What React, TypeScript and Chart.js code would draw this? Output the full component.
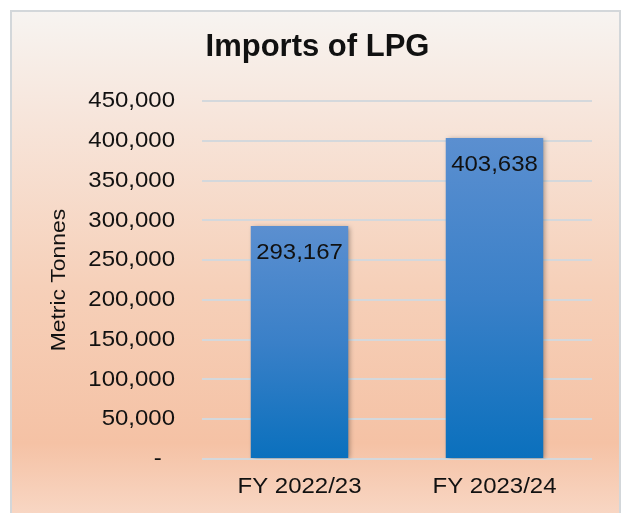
import React, { useEffect, useRef } from "react";
import { Chart, registerables } from "chart.js";

Chart.register(...registerables);

const categories = ["FY 2022/23", "FY 2023/24"];
const imports = [293167, 403638];
const yTicks = [0, 50000, 100000, 150000, 200000, 250000, 300000, 350000, 400000, 450000];
const titleText = "Imports of LPG";
const yAxisTitle = "Metric Tonnes";

const fmt = (v: number) => v.toLocaleString("en-US");

const W = 626;
const H = 513;
const FONT = "'Liberation Sans', Arial, sans-serif";
const STRETCH = 1.09;

export default function App() {
  const ref = useRef<HTMLCanvasElement | null>(null);

  useEffect(() => {
    document.body.style.margin = "0";
    const canvas = ref.current;
    if (!canvas) return;

    // Reference text is slightly wider than Arial: stretch regular text horizontally.
    const stretchPlugin = {
      id: "stretchText",
      beforeInit(chart: any) {
        const ctx = chart.ctx;
        const origFill = ctx.fillText.bind(ctx);
        const origMeasure = ctx.measureText.bind(ctx);
        const factor = () => (/bold/.test(ctx.font) ? 1 : STRETCH);
        ctx.fillText = (text: string, x: number, y: number, maxWidth?: number) => {
          const f = factor();
          ctx.save();
          ctx.translate(x, y);
          ctx.scale(f, 1);
          if (maxWidth !== undefined) origFill(text, 0, 0, maxWidth / f);
          else origFill(text, 0, 0);
          ctx.restore();
        };
        ctx.measureText = (text: string) => {
          const m = origMeasure(text);
          const f = factor();
          return {
            width: m.width * f,
            actualBoundingBoxAscent: m.actualBoundingBoxAscent,
            actualBoundingBoxDescent: m.actualBoundingBoxDescent,
            actualBoundingBoxLeft: m.actualBoundingBoxLeft * f,
            actualBoundingBoxRight: m.actualBoundingBoxRight * f,
          };
        };
      },
    };

    const framePlugin = {
      id: "frame",
      beforeDraw(chart: any) {
        const ctx = chart.ctx;
        ctx.save();
        ctx.fillStyle = "#ffffff";
        ctx.fillRect(0, 0, W, H);
        const g = ctx.createLinearGradient(0, 11, 0, H);
        g.addColorStop(0, "#f7f4f1");
        g.addColorStop(0.2, "#f7e6dc");
        g.addColorStop(0.55, "#f6d0b9");
        g.addColorStop(0.86, "#f5c2a5");
        g.addColorStop(1, "#f8d6c3");
        ctx.fillStyle = g;
        ctx.fillRect(11, 11, 609, H);
        ctx.strokeStyle = "#d3d7da";
        ctx.lineWidth = 2;
        ctx.strokeRect(11, 11, 609, H + 10);
        ctx.restore();
      },
    };

    const shadowPlugin = {
      id: "barShadow",
      beforeDatasetDraw(chart: any) {
        const ctx = chart.ctx;
        ctx.save();
        ctx.shadowColor = "rgba(0,0,0,0.35)";
        ctx.shadowBlur = 5;
        ctx.shadowOffsetX = 2;
        ctx.shadowOffsetY = 1;
      },
      afterDatasetDraw(chart: any) {
        chart.ctx.restore();
      },
    };

    const labelPlugin = {
      id: "valueLabels",
      afterDatasetsDraw(chart: any) {
        const ctx = chart.ctx;
        const meta = chart.getDatasetMeta(0);
        ctx.save();
        ctx.font = `22px ${FONT}`;
        ctx.fillStyle = "#111111";
        ctx.textAlign = "center";
        ctx.textBaseline = "middle";
        meta.data.forEach((bar: any, i: number) => {
          ctx.fillText(fmt(imports[i]), bar.x, bar.y + 27);
        });
        ctx.restore();
      },
    };

    const chart = new Chart(canvas, {
      type: "bar",
      data: {
        labels: categories,
        datasets: [
          {
            data: imports,
            backgroundColor: (c: any) => {
              const ch = c.chart;
              if (!ch.chartArea || c.dataIndex === undefined) return "#2f7bc4";
              const ys = ch.scales.y;
              const top = ys.getPixelForValue(imports[c.dataIndex]);
              const bottom = ys.getPixelForValue(0);
              const g = ch.ctx.createLinearGradient(0, top, 0, bottom);
              g.addColorStop(0, "#5b8fd0");
              g.addColorStop(0.5, "#3a80c8");
              g.addColorStop(1, "#0a70bd");
              return g;
            },
            borderWidth: 0,
            categoryPercentage: 1,
            barPercentage: 0.5,
          },
        ],
      },
      options: {
        animation: false,
        responsive: false,
        devicePixelRatio: 1,
        layout: { padding: { left: 43, right: 34, top: 0, bottom: 0 } },
        plugins: {
          legend: { display: false },
          tooltip: { enabled: false },
          title: {
            display: true,
            text: titleText,
            color: "#111111",
            font: { family: FONT, size: 31, weight: "bold" },
            padding: { top: 29, bottom: 35 },
          },
        },
        scales: {
          x: {
            grid: { display: false },
            border: { display: false },
            ticks: {
              color: "#111111",
              font: { family: FONT, size: 22 },
              padding: 7,
            },
            afterFit(s: any) {
              s.height = 54;
            },
          },
          y: {
            min: 0,
            max: 450000,
            afterBuildTicks(s: any) {
              s.ticks = yTicks.map((v) => ({ value: v }));
            },
            grid: { color: "#d4d8dc", lineWidth: 2, drawTicks: false },
            border: { display: false },
            ticks: {
              color: "#111111",
              font: { family: FONT, size: 22 },
              padding: 27,
              callback: (v: any) => (Number(v) === 0 ? "-  " : fmt(Number(v))),
            },
            title: {
              display: true,
              text: yAxisTitle,
              color: "#111111",
              font: { family: FONT, size: 21 },
              padding: { top: 4, bottom: 4 },
            },
            afterFit(s: any) {
              s.width = 159;
            },
          },
        },
      },
      plugins: [stretchPlugin, framePlugin, shadowPlugin, labelPlugin],
    });

    return () => chart.destroy();
  }, []);

  return (
    <div style={{ position: "absolute", left: 0, top: 0, width: W, height: H }}>
      <canvas ref={ref} width={W} height={H} style={{ width: W, height: H, display: "block" }} />
    </div>
  );
}
